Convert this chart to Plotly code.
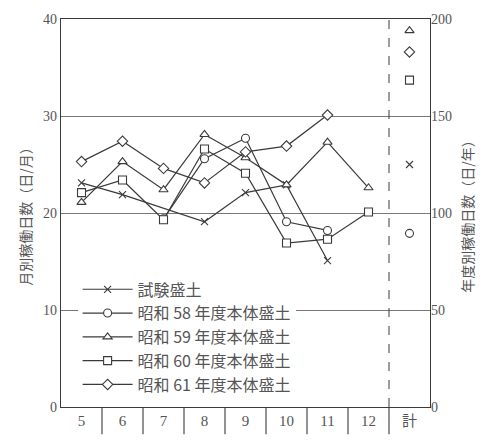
import plotly.graph_objects as go

# Month columns plus the yearly total column
categories = ["5", "6", "7", "8", "9", "10", "11", "12", "計"]

# Monthly working days (days/month); None where no record
test_fill = [23.1, 21.9, None, 19.1, 22.1, 22.9, 15.1, None]
s58_fill = [None, None, 19.4, 25.6, 27.7, 19.1, 18.2, None]
s59_fill = [21.1, 25.3, 22.4, 28.1, 25.7, 22.9, 27.3, 22.6]
s60_fill = [22.1, 23.4, 19.3, 26.6, 24.1, 16.9, 17.3, 20.1]
s61_fill = [25.3, 27.4, 24.6, 23.1, 26.3, 26.9, 30.1, None]

# Yearly working days (days/year)
yearly_totals = [125, 89.5, 194, 168.5, 183]

series_names = [
    "試験盛土",
    "昭和 58 年度本体盛土",
    "昭和 59 年度本体盛土",
    "昭和 60 年度本体盛土",
    "昭和 61 年度本体盛土",
]
series_values = [test_fill, s58_fill, s59_fill, s60_fill, s61_fill]
symbols = ["x-thin", "circle", "triangle-up", "square", "diamond"]

INK = "#3a3a3a"
TEXT = "#555555"
SERIF = "Liberation Serif, Noto Sans CJK JP, serif"
CJK = "Noto Sans CJK JP, Liberation Serif, serif"

x_pos = [i + 0.5 for i in range(len(categories))]


def marker_style(sym):
    if sym == "x-thin":
        return dict(symbol=sym, size=7, color=INK, line=dict(color=INK, width=1.1))
    return dict(symbol=sym, size=8, color="white", line=dict(color=INK, width=1.1))


fig = go.Figure()

draw_order = [1, 0, 2, 4, 3]
for k in draw_order:
    name, vals, sym = series_names[k], series_values[k], symbols[k]
    pts = [(x_pos[i], v) for i, v in enumerate(vals) if v is not None]
    fig.add_trace(go.Scatter(
        x=[p[0] for p in pts], y=[p[1] for p in pts],
        mode="lines+markers", name=name,
        line=dict(color=INK, width=1.2),
        marker=marker_style(sym),
        legendrank=k,
    ))

for k in range(len(series_names)):
    fig.add_trace(go.Scatter(
        x=[x_pos[-1]], y=[yearly_totals[k]], yaxis="y2",
        mode="markers", showlegend=False,
        marker=marker_style(symbols[k]),
    ))

shapes = []
# column separators in the label row under the plot
for i in range(1, len(categories)):
    shapes.append(dict(type="line", xref="x", yref="paper", x0=i, x1=i,
                       y0=0, y1=-0.07, line=dict(color=INK, width=1.1)))
# dashed divider before the total column
shapes.append(dict(type="line", xref="x", yref="paper", x0=8, x1=8,
                   y0=0, y1=1, line=dict(color=INK, width=1, dash="dash")))

fig.update_layout(
    width=486, height=441,
    margin=dict(l=61, r=53, t=16, b=25),
    paper_bgcolor="white", plot_bgcolor="white",
    showlegend=True,
    legend=dict(x=0.045, y=0.347, xanchor="left", yanchor="top",
                bgcolor="white", borderwidth=0,
                font=dict(family=CJK, size=16, color=TEXT),
                itemwidth=50, tracegroupgap=0),
    xaxis=dict(range=[0, 9], tickvals=x_pos, ticktext=categories,
               showgrid=False, zeroline=False, ticks="",
               showline=True, linecolor=INK, linewidth=1.2, mirror=True,
               tickfont=dict(family=SERIF, size=15, color=TEXT)),
    yaxis=dict(range=[0, 40], tickvals=[0, 10, 20, 30, 40],
               showgrid=True, gridcolor="#777777", gridwidth=1,
               zeroline=False, ticks="",
               showline=True, linecolor=INK, linewidth=1.2, mirror=True,
               tickfont=dict(family=SERIF, size=14, color=TEXT),
               title=dict(text="月別稼働日数（日/月）", standoff=8,
                          font=dict(family=CJK, size=14, color=TEXT))),
    yaxis2=dict(range=[0, 200], tickvals=[0, 50, 100, 150, 200],
                overlaying="y", side="right", showgrid=False,
                zeroline=False, ticks="",
                tickfont=dict(family=SERIF, size=14, color=TEXT),
                title=dict(text="年度別稼働日数（日/年）", standoff=12,
                           font=dict(family=CJK, size=14, color=TEXT))),
    shapes=shapes,
)

fig.write_html("out.html")
